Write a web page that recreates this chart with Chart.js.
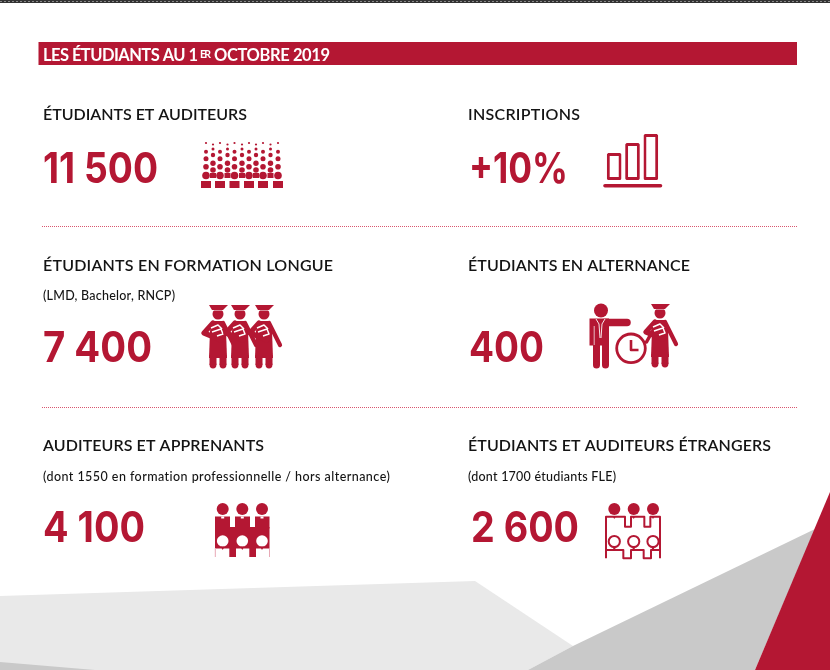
<!DOCTYPE html>
<html lang="fr"><head><meta charset="utf-8"><title>Les étudiants au 1er octobre 2019</title>
<script src="https://cdn.jsdelivr.net/npm/chart.js@4"></script>
<style>html,body{margin:0;padding:0;background:#fff;overflow:hidden}#wrap{position:relative;width:830px;height:670px}canvas{position:absolute;display:block}</style>
</head><body><div id="wrap"><canvas id="main" width="830" height="670" style="left:0;top:0"></canvas><canvas id="mini" width="55" height="46" style="left:605px;top:134px"></canvas></div>
<script>
// ---- data ----
const heading = ['LES ÉTUDIANTS AU 1', 'ER', ' OCTOBRE 2019'];
const categories = ['ÉTUDIANTS ET AUDITEURS','INSCRIPTIONS','ÉTUDIANTS EN FORMATION LONGUE','ÉTUDIANTS EN ALTERNANCE','AUDITEURS ET APPRENANTS','ÉTUDIANTS ET AUDITEURS ÉTRANGERS'];
const notes = ['','','(LMD, Bachelor, RNCP)','','(dont 1550 en formation professionnelle / hors alternance)','(dont 1700 étudiants FLE)'];
const values = [11500,10,7400,400,4100,2600];
const prefixes = ['','+','','','',''];
const suffixes = ['','%','','','',''];
const iconBarLabels = ['1','2','3'];
const iconBarValues = [27,37,46];

// ---- layout and style ----
const RED='#b41733', TXT='#141414';
const cells=[
 {x:43,tY:120,tW:204,vX:43,vY:182.5,vW:115},
 {x:468,tY:120,tW:112,vX:469,vY:182.5,vW:99},
 {x:43,tY:271,tW:290,nY:300,nW:132,vX:43,vY:362,vW:109},
 {x:468,tY:271,tW:222,vX:469,vY:362,vW:75},
 {x:43,tY:451,tW:221,nY:481,nW:347,vX:43,vY:542,vW:102},
 {x:468,tY:451,tW:303,nY:481,nW:148,vX:471,vY:542,vW:108}
];
const fmt=i=>prefixes[i]+String(values[i]).replace(/\B(?=(\d{3})+$)/g,' ')+suffixes[i];
function fitText(c,str,x,y,w,font,color){
  c.font=font;c.fillStyle=color;c.letterSpacing='0px';
  const m=c.measureText(str).width;
  c.letterSpacing=((w-m)/Math.max(1,str.length-1)).toFixed(3)+'px';
  c.textAlign='left';c.textBaseline='alphabetic';c.fillText(str,x,y);c.letterSpacing='0px';
}
function squeezeText(c,str,x,y,w,font,color){
  c.font=font;c.fillStyle=color;c.letterSpacing='0px';c.textAlign='left';c.textBaseline='alphabetic';
  const m=c.measureText(str).width;
  c.save();c.translate(x,y);c.scale(w/m,1);c.fillText(str,0,0);c.restore();
}
function poly(c,pts,fill){c.beginPath();pts.forEach((p,i)=>i?c.lineTo(p[0],p[1]):c.moveTo(p[0],p[1]));c.closePath();if(fill){c.fillStyle=fill;c.fill();}}
function circ(c,x,y,r,fill){c.beginPath();c.arc(x,y,r,0,Math.PI*2);c.fillStyle=fill;c.fill();}
function rect(c,x,y,w,h,fill){c.fillStyle=fill;c.fillRect(x,y,w,h);}
function line(c,pts,lw,color,cap){c.beginPath();pts.forEach((p,i)=>i?c.lineTo(p[0],p[1]):c.moveTo(p[0],p[1]));c.lineWidth=lw;c.strokeStyle=color;c.lineCap=cap||'butt';c.lineJoin='round';c.stroke();c.lineCap='butt';}

function crowd(c){
  const base=[206,220,234.5,249,263,278], off=[213,227.5,242,256,270.5];
  [[143,1.1],[151.7,2],[158.7,2.5],[166.7,2.8]].forEach(r=>base.forEach(x=>circ(c,x,r[0],r[1],RED)));
  [[144.5,1.1],[149,1.5],[155,2.2],[163.3,2.7],[170,2.8]].forEach(r=>off.forEach(x=>circ(c,x,r[0],r[1],RED)));
  off.forEach(x=>rect(c,x-3,173,6,5,RED));
  base.forEach(x=>{rect(c,x-5,181,10,7,RED);circ(c,x,175.5,3.8,RED);});
}
function graduate(c,cx,top,book){
  const y=v=>top+v;
  poly(c,[[cx-9,y(0)],[cx+10,y(0)],[cx+5,y(5)],[cx-6,y(5)]],RED);
  c.save();c.beginPath();c.rect(cx-8,y(5.5),16,10);c.clip();circ(c,cx,y(9),5.5,RED);c.restore();
  poly(c,[[cx-6,y(16)],[cx+6,y(16)],[cx+8,y(26)],[cx+9,y(53)],[cx-9,y(53)],[cx-8,y(26)]],RED);
  rect(c,cx-8.5,y(50),7,10,RED);rect(c,cx+1.5,y(50),7,10,RED);
  circ(c,cx-5,y(60),3.4,RED);circ(c,cx+5,y(60),3.4,RED);
  line(c,[[cx+5,y(18)],[cx+16,y(40)]],4.2,RED,'round');
  line(c,[[cx-5,y(18)],[cx-14,y(28)],[cx+3,y(35)]],5.2,RED,'round');
  if(book){line(c,[[cx-7,y(23)],[cx,y(20)],[cx+4,y(24)]],1.5,'#fff');line(c,[[cx-6,y(27)],[cx+3,y(24)],[cx+5,y(29)],[cx-1,y(31)]],1.5,'#fff');}
}
function teacher(c){
  circ(c,601,310.5,7,RED);
  rect(c,589.5,318.5,19.5,27,RED);
  rect(c,593,345,7,20,RED);rect(c,602,345,7,20,RED);
  circ(c,596.5,365,3.5,RED);circ(c,605.5,365,3.5,RED);
  line(c,[[604,322.5],[627,322.5]],7.5,RED,'round');
  line(c,[[596,319],[599,324],[600,338]],0.9,'#fff');line(c,[[605,319],[602,324],[601,338]],0.9,'#fff');
  line(c,[[594.2,326],[594.2,345]],0.7,'#fff');
  c.beginPath();c.arc(631,348.3,14.3,0,Math.PI*2);c.lineWidth=2.8;c.strokeStyle=RED;c.stroke();
  line(c,[[631,340],[631,350],[638.5,350]],2.6,RED);
  line(c,[[656,325],[646.5,342]],3.5,RED,'round');
  graduate(c,660,304,true);
}
const gHeads=[222.7,242.3,262], oHeads=[614.3,633.7,653];
function groupFilled(c){
  gHeads.forEach(x=>circ(c,x,509,6,RED));
  [[215,15],[235,15],[255,14.5]].forEach(r=>rect(c,r[0],516.5,r[1],12,RED));
  rect(c,215,527,54.5,21.5,RED);
  rect(c,229.3,548,6.7,9,RED);rect(c,249.3,548,6.7,9,RED);
  gHeads.forEach(x=>{rect(c,x-1.5,516.5,3,2,'#fff');circ(c,x,541,5.8,'#fff');poly(c,[[x-2,546.5],[x+2,546.5],[x,550]],RED);});
  rect(c,214.8,548,1,9,'#e8a9b6');rect(c,269,548,1,9,'#e8a9b6');
}
function groupOutline(c){
  const X=v=>595+v/3,Y=v=>495+v/3,P=a=>a.map(p=>[X(p[0]),Y(p[1])]);
  oHeads.forEach(x=>circ(c,x,509,6,RED));
  line(c,P([[33,190],[33,65],[90,65],[90,95],[108,95],[108,65],[148,65],[148,95],[166,95],[166,65],[195,65],[195,190]]),2,RED);
  line(c,P([[33,165],[85,165],[85,190],[108,190],[108,165],[146,165],[146,190],[168,190],[168,165],[195,165]]),2,RED);
  oHeads.forEach(x=>{c.beginPath();c.arc(x,541.5,5.6,0,Math.PI*2);c.fillStyle='#fff';c.fill();c.lineWidth=2;c.strokeStyle=RED;c.stroke();poly(c,[[x-2,546.5],[x+2,546.5],[x,551]],RED);poly(c,[[x-1.5,516.5],[x+1.5,516.5],[x,519]],RED);});
}

const infographic={id:'infographic',
  beforeDatasetsDraw(chart){
    const c=chart.ctx;c.save();
    rect(c,0,0,830,670,'#fff');
    poly(c,[[0,596],[475,581],[573,646],[528,670],[0,670]],'#e9e9e9');
    poly(c,[[0,662],[95,670],[0,670]],'#c9c9c9');
    poly(c,[[528,670],[573,646],[815,529],[755,670]],'#c9c9c9');
    poly(c,[[830,492],[830,670],[755,670]],'#b41733');
    rect(c,0,0,830,3,'#333');
    c.setLineDash([2,2]);line(c,[[0,1.5],[830,1.5]],1,'#8a8a8a');c.setLineDash([]);
    rect(c,38.5,42,758.5,23,RED);
    c.setLineDash([1,1]);
    line(c,[[42,226.5],[798,226.5]],1,'#d9566f');
    line(c,[[42,407.5],[798,407.5]],1,'#d9566f');
    c.setLineDash([]);
    c.restore();
  },
  afterDatasetsDraw(chart){
    const c=chart.ctx;c.save();
    fitText(c,heading[0],43,61,155,'700 16.5px Lato','#fff');
    fitText(c,heading[1],200,58,11,'700 10.5px Lato','#fff');
    fitText(c,heading[2].trim(),214,61,116,'700 16.5px Lato','#fff');
    chart.getDatasetMeta(0).data.forEach((el,i)=>{
      const k=cells[i];
      fitText(c,categories[i],k.x,k.tY,k.tW,'600 16px Lato',TXT);
      if(notes[i]) fitText(c,notes[i],k.x,k.nY,k.nW,'500 12.5px Lato',TXT);
      squeezeText(c,fmt(i),k.vX,k.vY,k.vW,'700 42px Inter',RED);
    });
    crowd(c);
    [218,240,264].forEach(x=>graduate(c,x,305,true));
    teacher(c);
    groupFilled(c);groupOutline(c);
    line(c,[[605,185.7],[660.5,185.7]],3.6,RED,'round');
    c.restore();
  }
};
Chart.defaults.animation=false;
new Chart(document.getElementById('main'),{type:'bar',plugins:[infographic],
  data:{labels:categories,datasets:[{label:'Effectifs',data:values,backgroundColor:'rgba(0,0,0,0)',borderWidth:0}]},
  options:{responsive:false,devicePixelRatio:1,animation:false,layout:{padding:0},
    plugins:{legend:{display:false},tooltip:{enabled:false},title:{display:false}},
    scales:{x:{display:false},y:{display:false}}}});
new Chart(document.getElementById('mini'),{type:'bar',
  data:{labels:iconBarLabels,datasets:[{data:iconBarValues,backgroundColor:'#fff',borderColor:RED,borderWidth:3,borderRadius:1.5,borderSkipped:false,categoryPercentage:1,barPercentage:0.8}]},
  options:{responsive:false,devicePixelRatio:1,animation:false,layout:{padding:0},
    plugins:{legend:{display:false},tooltip:{enabled:false}},
    scales:{x:{display:false},y:{display:false,min:0,max:46}}}});
</script></body></html>
